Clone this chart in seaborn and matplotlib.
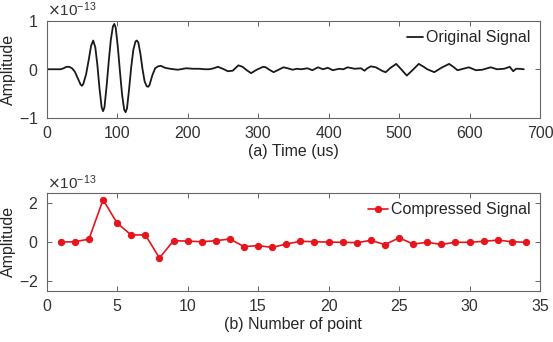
"""
original vs compressed signal, two panel figure
"""
import numpy as np
import seaborn as sns
import matplotlib
matplotlib.use('Agg')
import matplotlib.pyplot as plt

# original signal (time in us, amplitude in 1e-13)
time_us = [0, 10, 20, 24, 28, 32, 36, 40, 44, 48,
           50, 52, 56, 60, 63, 66, 69, 72, 75, 78,
           80, 82, 85, 88, 91, 94, 96, 98, 101, 104,
           107, 110, 112, 114, 117, 120, 123, 126, 128, 130,
           133, 136, 139, 142, 144, 146, 150, 154, 158, 162,
           168, 175, 186, 198, 208, 217, 224, 231, 237, 243,
           250, 257, 264, 272, 278, 284, 290, 298, 307, 311,
           316, 322, 329, 336, 342, 349, 355, 361, 370, 377,
           385, 392, 399, 406, 415, 421, 427, 437, 446, 451,
           455, 460, 467, 472, 477, 481, 488, 496, 503, 511,
           519, 528, 535, 540, 550, 560, 571, 577, 583, 591,
           599, 609, 618, 630, 639, 649, 657, 662, 666, 670,
           677]
orig_amp = [0.0, 0.0, 0.0, 0.02, 0.05, 0.05, 0.02, -0.05, -0.18, -0.31,
            -0.34, -0.30, -0.10, 0.22, 0.48, 0.59, 0.45, 0.08, -0.40, -0.78,
            -0.86, -0.78, -0.35, 0.15, 0.60, 0.88, 0.93, 0.85, 0.45, -0.05,
            -0.52, -0.83, -0.88, -0.80, -0.40, 0.05, 0.40, 0.57, 0.59, 0.55,
            0.32, 0.0, -0.25, -0.35, -0.36, -0.32, -0.12, 0.02, 0.06, 0.07,
            0.03, 0.01, -0.01, 0.02, 0.01, 0.01, 0.0, 0.0, 0.02, 0.05,
            0.01, -0.04, -0.03, 0.08, 0.05, -0.02, -0.08, -0.01, 0.05, 0.04,
            -0.01, -0.06, -0.01, 0.04, 0.02, -0.01, 0.01, 0.0, 0.02, -0.02,
            0.04, 0.0, 0.03, -0.02, 0.01, 0.0, 0.04, 0.01, 0.02, -0.03,
            0.02, 0.06, 0.04, 0.0, -0.04, -0.06, 0.03, 0.11, 0.0, -0.13,
            -0.02, 0.11, 0.05, 0.0, -0.06, 0.03, 0.11, 0.05, -0.02, 0.01,
            0.04, -0.02, -0.01, 0.04, 0.0, 0.01, 0.05, -0.04, 0.01, 0.01,
            0.0]

# compressed signal (34 points, amplitude in 1e-13)
point_no = list(range(1, 35))
comp_amp = [-0.02, 0.0, 0.13, 2.14, 0.95, 0.34, 0.35, -0.83, 0.05, 0.03,
            0.0, 0.05, 0.14, -0.25, -0.20, -0.29, -0.12, 0.02, 0.0, -0.02,
            -0.03, -0.05, 0.07, -0.15, 0.20, -0.12, -0.03, -0.14, -0.03, -0.03,
            0.02, 0.08, 0.0, -0.03]

scale = 1e-13

sns.set_style('ticks')
plt.rcParams['font.family'] = ['Liberation Sans', 'DejaVu Sans']
plt.rcParams['font.size'] = 11.5
plt.rcParams['axes.edgecolor'] = '#666666'
plt.rcParams['xtick.color'] = '#666666'
plt.rcParams['ytick.color'] = '#666666'
plt.rcParams['xtick.labelcolor'] = '#333333'
plt.rcParams['ytick.labelcolor'] = '#333333'
plt.rcParams['axes.labelcolor'] = '#262626'


def style_axes(ax):
    """matlab-ish box with inward ticks on all sides"""
    ax.tick_params(direction='in', top=True, right=True, length=3.5,
                   width=0.7, labelsize=11.5, pad=6)
    for sp in ax.spines.values():
        sp.set_visible(True)
        sp.set_linewidth(0.8)
    ax.ticklabel_format(axis='y', style='sci', scilimits=(0, 0), useMathText=True)
    ax.yaxis.get_offset_text().set_fontsize(11)


fig = plt.figure(figsize=(5.53, 3.42), dpi=100)
ax1 = fig.add_axes([0.0844, 0.655, 0.8921, 0.285])
ax2 = fig.add_axes([0.0844, 0.150, 0.8921, 0.2865])

# top panel
sns.lineplot(x=time_us, y=np.array(orig_amp) * scale, ax=ax1, color='#1a1a1a',
             linewidth=1.3, label='Original Signal')
ax1.set_xlim(0, 700)
ax1.set_ylim(-1 * scale, 1 * scale)
ax1.set_xticks(np.arange(0, 701, 100))
ax1.set_yticks([-1 * scale, 0, 1 * scale])
ax1.set_xlabel('(a) Time (us)', labelpad=2)
ax1.set_ylabel('Amplitude', labelpad=2)
style_axes(ax1)
ax1.legend(loc='upper right', frameon=False, handlelength=1.0, handletextpad=0.2,
           borderaxespad=0.2, fontsize=11.5)

# bottom panel
sns.lineplot(x=point_no, y=np.array(comp_amp) * scale, ax=ax2, color='#e8141c',
             linewidth=1.2, marker='o', markersize=4.5, markeredgecolor='#e8141c',
             label='Compressed Signal')
ax2.set_xlim(0, 35)
ax2.set_ylim(-2.5 * scale, 2.5 * scale)
ax2.set_xticks(np.arange(0, 36, 5))
ax2.set_yticks([-2 * scale, 0, 2 * scale])
ax2.set_xlabel('(b) Number of point', labelpad=2)
ax2.set_ylabel('Amplitude', labelpad=2)
style_axes(ax2)
ax2.legend(loc='upper right', frameon=False, handlelength=1.2, handletextpad=0.2,
           borderaxespad=0.2, fontsize=11.5)

plt.savefig('out.png', dpi=100)
